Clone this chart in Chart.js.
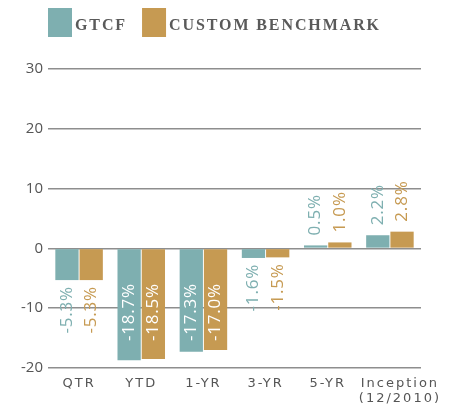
<!DOCTYPE html>
<html>
<head>
<meta charset="utf-8">
<script src="https://cdn.jsdelivr.net/npm/chart.js@4.4.1/dist/chart.umd.min.js"></script>
<style>
  html, body { margin: 0; padding: 0; background: #fff; }
  #wrap { width: 461px; height: 408px; position: relative; }
</style>
</head>
<body>
<div id="wrap"><canvas id="chart"></canvas></div>
<script>
const categories = ["QTR", "YTD", "1-YR", "3-YR", "5-YR", ["Inception", "(12/2010)"]]
const gtcf_values = [-5.3, -18.7, -17.3, -1.6, 0.5, 2.2]
const bench_values = [-5.3, -18.5, -17.0, -1.5, 1.0, 2.8]
const series_names = ["GTCF", "CUSTOM BENCHMARK"]
const y_ticks = [30, 20, 10, 0, -10, -20]

const teal = "#7eafb0"
const gold = "#c69a52"
const text_gray = "#555555"

// legend drawn as a row of tall boxes with spaced serif caps
const legend_row = {
    id: "legend_row",
    afterDraw(chart) {
        const ctx = chart.ctx
        ctx.save()
        ctx.font = "bold 16px 'Liberation Serif'"
        ctx.letterSpacing = "1.9px"
        ctx.textBaseline = "alphabetic"
        let x = chart.chartArea.left
        chart.data.datasets.forEach(ds => {
            ctx.fillStyle = ds.backgroundColor
            ctx.fillRect(x, 8, 24, 29)
            ctx.fillStyle = "#5a5a5a"
            ctx.fillText(ds.label, x + 27, 29.5)
            x += 27 + ctx.measureText(ds.label).width + 15
        })
        ctx.restore()
    }
}

// rotated value labels
const value_labels = {
    id: "value_labels",
    afterDatasetsDraw(chart) {
        const ctx = chart.ctx
        ctx.save()
        ctx.font = "17px 'Open Sans'"
        ctx.letterSpacing = "0.8px"
        ctx.textBaseline = "middle"
        chart.data.datasets.forEach((ds, di) => {
            const meta = chart.getDatasetMeta(di)
            meta.data.forEach((bar, i) => {
                const v = ds.data[i]
                const txt = v.toFixed(1) + "%"
                const w = ctx.measureText(txt).width
                ctx.save()
                if (v >= 0) {
                    ctx.translate(bar.x, bar.y - 10)
                    ctx.rotate(-Math.PI / 2)
                    ctx.textAlign = "left"
                    ctx.fillStyle = ds.backgroundColor
                } else if (bar.y - bar.base > w + 30) {
                    ctx.translate(bar.x, bar.base + 34)
                    ctx.rotate(-Math.PI / 2)
                    ctx.textAlign = "right"
                    ctx.fillStyle = "#ffffff"
                } else {
                    ctx.translate(bar.x, bar.y + 6)
                    ctx.rotate(-Math.PI / 2)
                    ctx.textAlign = "right"
                    ctx.fillStyle = ds.backgroundColor
                }
                ctx.fillText(txt, 0, 0)
                ctx.restore()
            })
        })
        ctx.restore()
    }
}

// spaced-out category labels, last one nudged right like the original
const spaced_x = {
    id: "spaced_x",
    afterLayout(chart) {
        const sc = chart.scales.x
        if (sc._spaced) return
        const orig = sc.drawLabels
        sc.drawLabels = function (area) {
            const items = this.getLabelItems(area)
            const last = items[items.length - 1]
            if (last && !last._nudged) {
                last.options.translation = [last.options.translation[0] + 10, last.options.translation[1]]
                last._nudged = true
            }
            this.ctx.save()
            this.ctx.letterSpacing = "2px"
            orig.call(this, area)
            this.ctx.restore()
        }
        sc._spaced = true
    }
}

new Chart(document.getElementById("chart"), {
    type: "bar",
    data: {
        labels: categories,
        datasets: [
            { label: series_names[0], data: gtcf_values, backgroundColor: teal, borderWidth: 0,
              barPercentage: 0.96, categoryPercentage: 0.78 },
            { label: series_names[1], data: bench_values, backgroundColor: gold, borderWidth: 0,
              barPercentage: 0.96, categoryPercentage: 0.78 }
        ]
    },
    options: {
        responsive: true,
        maintainAspectRatio: false,
        animation: false,
        layout: { padding: { top: 69, left: 0, right: 40, bottom: 0 } },
        plugins: {
            legend: { display: false },
            tooltip: { enabled: false }
        },
        scales: {
            x: {
                grid: { display: false, drawTicks: false },
                border: { display: false },
                ticks: {
                    color: text_gray,
                    font: { family: "'DejaVu Sans'", size: 13, lineHeight: 1.15 },
                    padding: 8,
                    maxRotation: 0,
                    autoSkip: false
                },
                afterFit(scale) { scale.height = 40 }
            },
            y: {
                min: -20,
                max: 30,
                afterBuildTicks(scale) { scale.ticks = y_ticks.map(v => ({ value: v })) },
                grid: { color: "#8e8e8e", lineWidth: 1.5, drawTicks: false },
                border: { display: false },
                ticks: {
                    color: text_gray,
                    font: { family: "'Open Sans'", size: 15 },
                    padding: 5
                },
                afterFit(scale) { scale.width = 48 }
            }
        }
    },
    plugins: [legend_row, value_labels, spaced_x]
})
</script>
</body>
</html>
